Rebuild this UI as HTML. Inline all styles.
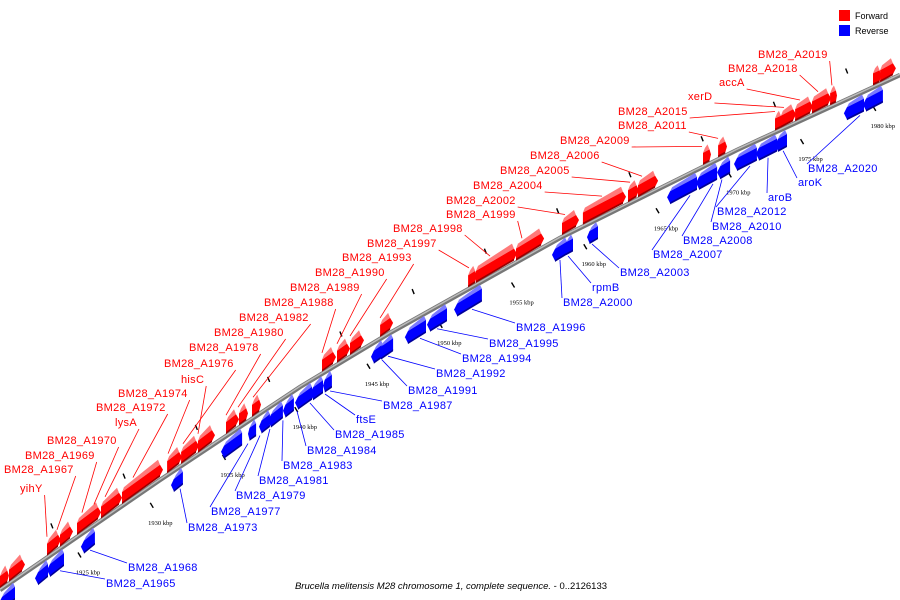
<!DOCTYPE html>
<html><head><meta charset="utf-8"><title>Brucella melitensis M28 chromosome 1</title>
<style>
html,body{margin:0;padding:0;background:#fff;}
svg{display:block;font-family:"Liberation Sans",sans-serif;}
</style></head>
<body>
<svg id="chart" width="900" height="600" viewBox="0 0 900 600" xmlns="http://www.w3.org/2000/svg">
  <g>
    <rect x="839" y="10" width="11" height="11" fill="#f00"/>
    <text x="855" y="19" font-size="9" fill="#000">Forward</text>
    <rect x="839" y="25" width="11" height="11" fill="#00f"/>
    <text x="855" y="34" font-size="9" fill="#000">Reverse</text>
  </g>
  <text x="451" y="589" font-size="9.5" text-anchor="middle" fill="#000"><tspan font-style="italic">Brucella melitensis M28 chromosome 1, complete sequence.</tspan> - 0..2126133</text>
  <g id="track"></g>
</svg>
<script>
// ---- data ----
const tickValues = [1925,1930,1935,1940,1945,1950,1955,1960,1965,1970,1975,1980];
const tickLabels = ["1925 kbp","1930 kbp","1935 kbp","1940 kbp","1945 kbp","1950 kbp","1955 kbp","1960 kbp","1965 kbp","1970 kbp","1975 kbp","1980 kbp"];
const fwdStart = [1918.91,1919.53,1922.16,1923.06,1924.24,1925.90,1927.35,1930.47,1931.44,1932.61,1934.55,1935.45,1936.35,1941.19,1942.23,1943.13,1945.21,1951.30,1951.85,1954.62,1957.80,1959.25,1962.37,1963.06,1967.56,1968.60,1972.54,1972.95,1973.93,1975.10,1976.35,1979.32,1979.81];
const fwdEnd   = [1919.46,1920.57,1923.06,1923.89,1925.83,1927.28,1930.12,1931.44,1932.61,1933.72,1935.38,1936.00,1936.90,1942.09,1943.06,1944.03,1946.04,1951.85,1954.62,1956.49,1958.91,1962.16,1963.06,1964.38,1968.04,1969.15,1972.95,1973.93,1975.10,1976.35,1976.76,1979.81,1980.84];
const revStart = [1918.91,1921.40,1922.23,1924.58,1930.81,1934.27,1936.14,1936.90,1937.52,1938.56,1939.39,1940.43,1941.33,1944.65,1945.14,1947.00,1948.53,1950.40,1957.18,1958.08,1959.60,1965.14,1967.14,1968.60,1969.77,1971.29,1972.61,1977.38,1978.70];
const revEnd   = [1919.95,1922.23,1923.34,1925.48,1931.57,1935.66,1936.63,1937.59,1938.49,1939.25,1940.50,1941.26,1941.88,1945.41,1946.11,1948.39,1949.84,1952.26,1958.15,1958.56,1960.29,1967.14,1968.53,1969.43,1971.29,1972.68,1973.37,1978.70,1980.01];
const fwdLabelText = ["BM28_A2019","BM28_A2018","accA","xerD","BM28_A2015","BM28_A2011","BM28_A2009","BM28_A2006","BM28_A2005","BM28_A2004","BM28_A2002","BM28_A1999","BM28_A1998","BM28_A1997","BM28_A1993","BM28_A1990","BM28_A1989","BM28_A1988","BM28_A1982","BM28_A1980","BM28_A1978","BM28_A1976","hisC","BM28_A1974","BM28_A1972","lysA","BM28_A1970","BM28_A1969","BM28_A1967","yihY"];
const fwdLabelTarget = [1976.48,1975.52,1974.27,1973.16,1972.54,1968.60,1967.49,1963.34,1962.51,1960.57,1958.01,1955.03,1952.82,1951.36,1945.21,1943.13,1942.23,1941.19,1936.42,1935.38,1934.55,1931.57,1932.61,1930.54,1928.11,1926.18,1925.41,1924.58,1922.85,1922.16];
const fwdLabelX = [758,728,719,688,618,618,560,530,500,473,446,446,393,367,342,315,290,264,239,214,189,164,181,118,96,115,47,25,4,20];
const fwdLabelY = [58,72,86,100,115,129,144,159,174,189,204,218,232,247,261,276,291,306,321,336,351,367,383,397,411,426,444,459,473,492];
const revLabelText = ["BM28_A2020","aroK","aroB","BM28_A2012","BM28_A2010","BM28_A2008","BM28_A2007","BM28_A2003","rpmB","BM28_A2000","BM28_A1996","BM28_A1995","BM28_A1994","BM28_A1992","BM28_A1991","BM28_A1987","ftsE","BM28_A1985","BM28_A1984","BM28_A1983","BM28_A1981","BM28_A1979","BM28_A1977","BM28_A1973","BM28_A1968","BM28_A1965"];
const revLabelTarget = [1978.42,1973.10,1972.06,1970.81,1968.87,1968.25,1966.66,1959.88,1958.22,1957.66,1951.57,1949.15,1947.97,1945.76,1945.34,1941.75,1941.40,1940.36,1939.46,1938.49,1937.59,1936.90,1936.07,1931.37,1925.14,1923.06];
const revLabelX = [808,798,768,717,712,683,653,620,592,563,516,489,462,436,408,383,356,335,307,283,259,236,211,188,128,106];
const revLabelY = [172,186,201,215,230,244,258,276,291,306,331,347,362,377,394,409,423,438,454,469,484,499,515,531,571,587];

// ---- axis functions ----
const axisPts = [[0,590],[160,480],[300,387],[390,333],[560,238],[737,150],[900,75]];
function xOf(k){ return (k-1918.91)/0.0692; }
function cY(x){
  for(let i=0;i<axisPts.length-1;i++){
    const a=axisPts[i], b=axisPts[i+1];
    if(x<=b[0]||i===axisPts.length-2){ const t=(x-a[0])/(b[0]-a[0]); return a[1]+t*(b[1]-a[1]); }
  }
}
const NS="http://www.w3.org/2000/svg";
const track=document.getElementById('track');
function mk(tag,attrs,parent){ const e=document.createElementNS(NS,tag); for(const k in attrs) e.setAttribute(k,attrs[k]); (parent||track).appendChild(e); return e; }
function pts(a){ return a.map(p=>p[0].toFixed(1)+","+p[1].toFixed(1)).join(" "); }

// axis line
const axisG=mk('g',{});


const ap=axisPts.map(p=>p[0]+","+p[1]).join(" ");
mk('polyline',{points:ap,fill:'none',stroke:'#777','stroke-width':4.5},axisG);
mk('polyline',{points:ap,fill:'none',stroke:'#bbb','stroke-width':1.5,transform:'translate(0,-0.8)'},axisG);

// ticks
tickValues.forEach((v,i)=>{
  const x=xOf(v), y=cY(x);
  const d=mk('line',{x1:x-10,y1:y+23,x2:x-7,y2:y+28,stroke:'#000','stroke-width':1.4});
  
  
  const t=mk('text',{x:x,y:y+45,'font-size':6.5,'text-anchor':'middle','font-family':'Liberation Serif, serif',fill:'#000'});
  
  
  t.textContent=tickLabels[i];
  const mx=xOf(v-2.5), my=cY(mx);
  const m=mk('line',{x1:mx-1,y1:my-31,x2:mx+1,y2:my-26,stroke:'#000','stroke-width':1.4});
  
  
});

// genes
function gene(k0,k1,fwd,idx){
  const x0=xOf(k0), x1=xOf(k1), y0=cY(x0), y1=cY(x1);
  const g=mk('g',{});
  
  
  const ah=Math.min(4,(x1-x0)*0.35);
  if(fwd){
    mk('polygon',{points:pts([[x0+2,y0-19],[x1-ah,y1-19],[x1-ah+2,y1-14],[x0,y0-14]]),fill:'#ff7a7a'},g);
    mk('polygon',{points:pts([[x0,y0-14],[x1-ah+2,y1-14],[x1+1,y1-9],[x1-ah+2,y1-3],[x0,y0-3]]),fill:'#f00'},g);
    mk('polygon',{points:pts([[x0,y0-4],[x1-ah+2,y1-4],[x1-ah+2,y1-2],[x0,y0-2]]),fill:'#900'},g);
  } else {
    mk('polygon',{points:pts([[x0+ah,y0+3],[x1-2,y1+3],[x1,y1+7],[x0+ah-2,y0+7]]),fill:'#7a7aff'},g);
    mk('polygon',{points:pts([[x0+ah-2,y0+7],[x1,y1+7],[x1,y1+19],[x0+ah-2,y0+19],[x0-1,y0+13]]),fill:'#00f'},g);
    mk('polygon',{points:pts([[x0+ah-2,y0+18],[x1,y1+18],[x1,y1+20],[x0+ah-2,y0+20]]),fill:'#009'},g);
  }
}
fwdStart.forEach((s,i)=>gene(s,fwdEnd[i],true,i));
revStart.forEach((s,i)=>gene(s,revEnd[i],false,i));

// labels
fwdLabelText.forEach((txt,i)=>{
  const t=mk('text',{x:fwdLabelX[i],y:fwdLabelY[i],'font-size':11,fill:'#f00','letter-spacing':'0.3'});
  
  
  t.textContent=txt;
  const w=t.getComputedTextLength();
  const tx=xOf(fwdLabelTarget[i]), ty=cY(tx)-21;
  const l=mk('line',{x1:fwdLabelX[i]+w+2,y1:fwdLabelY[i]+3,x2:tx,y2:ty,stroke:'#f00','stroke-width':0.8});
  
  
});
revLabelText.forEach((txt,i)=>{
  const t=mk('text',{x:revLabelX[i],y:revLabelY[i],'font-size':11,fill:'#00f','letter-spacing':'0.3'});
  
  
  t.textContent=txt;
  const tx=xOf(revLabelTarget[i]), ty=cY(tx)+22;
  const l=mk('line',{x1:revLabelX[i]-1,y1:revLabelY[i]-8,x2:tx,y2:ty,stroke:'#00f','stroke-width':0.8});
  
  
});
</script>
</body></html>
